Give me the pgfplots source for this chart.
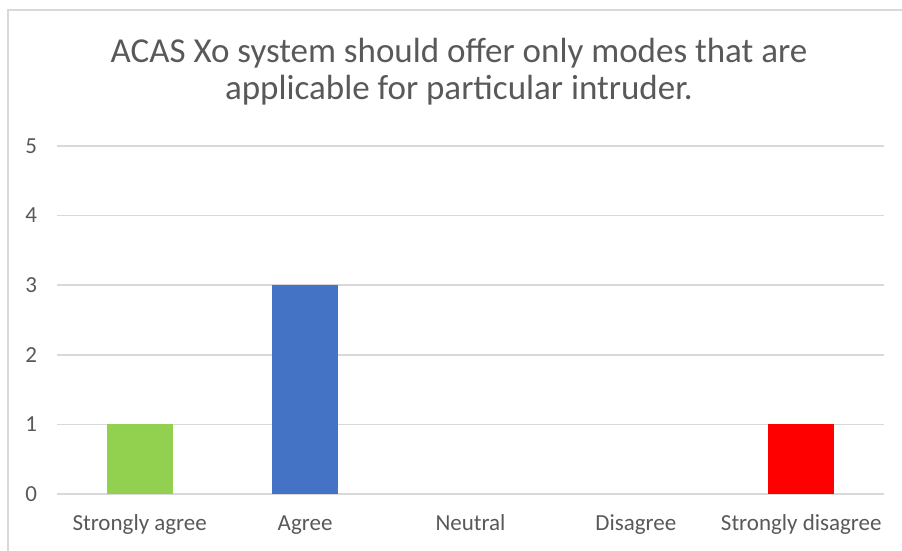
\documentclass[border=0pt]{standalone}
\usepackage{pgfplots}
\pgfplotsset{compat=1.18}
\usepackage{fontspec}
\setmainfont{Carlito}
\definecolor{txt}{HTML}{595959}
\definecolor{grd}{HTML}{D9D9D9}
\definecolor{cgreen}{HTML}{92D050}
\definecolor{cblue}{HTML}{4472C4}
\definecolor{cred}{HTML}{FF0000}
\begin{document}
\begin{tikzpicture}
\useasboundingbox (0pt,0pt) rectangle (451pt,-275.5pt);
\draw[grd, line width=1pt] (4pt,-275.5pt) -- (4pt,-5pt) -- (451pt,-5pt);
\node[txt, font=\fontsize{17.5}{18.5}\selectfont, align=center, anchor=base] at (229.5pt,-50pt) {ACAS Xo system should offer only modes that are\\applicable for particular intruder.};
\begin{axis}[
  at={(28.5pt,-247pt)}, anchor=south west,
  scale only axis, width=413.5pt, height=174pt,
  xmin=-0.5, xmax=4.5, ymin=0, ymax=5,
  axis line style={draw=none},
  xtick={0,1,2,3,4},
  xticklabels={Strongly agree,Agree,Neutral,Disagree,Strongly disagree},
  ytick={0,1,2,3,4,5},
  major tick length=0pt,
  ymajorgrids, grid style={grd, line width=0.75pt},
  tick label style={txt, font=\fontsize{11.5}{13}\selectfont},
  /pgf/number format/assume math mode=true,
  yticklabel style={xshift=-6.5pt},
  xticklabel style={anchor=base, yshift=-18.5pt},
  ybar, bar width=33pt, bar shift=0pt,
  clip=false,
]
\addplot[fill=cgreen, draw=none] coordinates {(0,1)};
\addplot[fill=cblue, draw=none] coordinates {(1,3)};
\addplot[fill=cred, draw=none] coordinates {(4,1)};
\end{axis}
\end{tikzpicture}
\end{document}
